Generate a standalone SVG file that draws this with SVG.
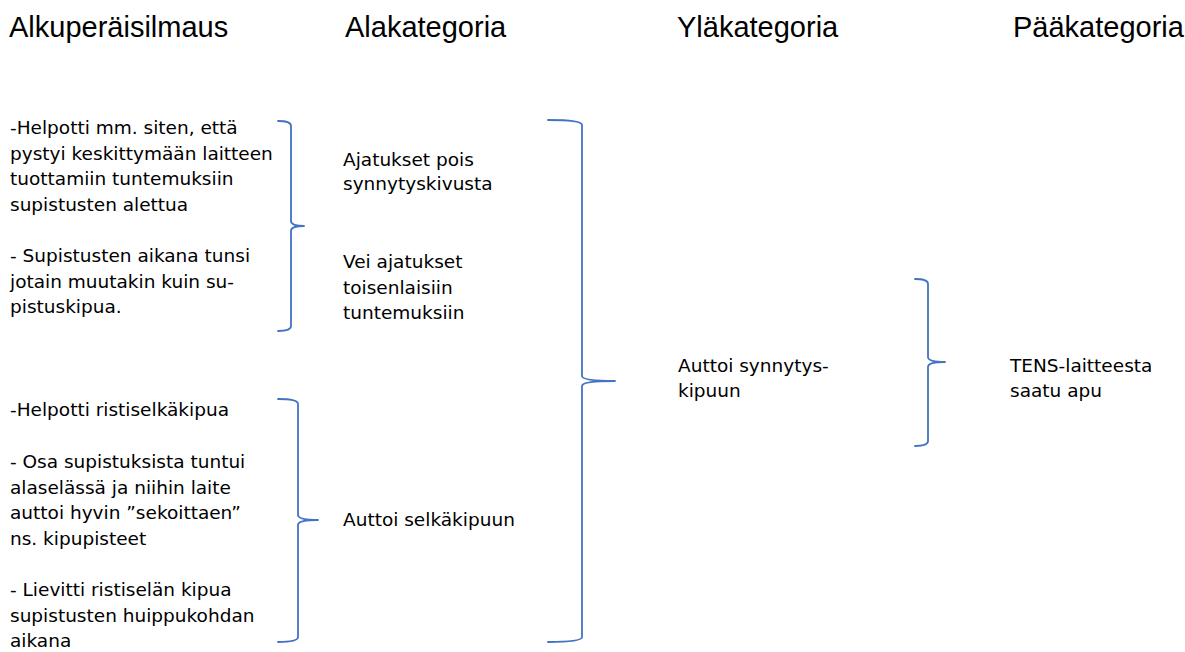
<svg xmlns="http://www.w3.org/2000/svg" width="1185" height="652" viewBox="0 0 1185 652">
  <style>
    .hdr { font-family: "Liberation Sans", Arial, sans-serif; font-size: 29px; fill: #000; }
    .txt { font-family: "DejaVu Sans", "Liberation Sans", sans-serif; font-size: 18.5px; fill: #000; }
    .brace { fill: none; stroke: #4472c4; stroke-width: 1.8; stroke-linecap: round; stroke-linejoin: round; }
  </style>
  <rect width="1185" height="652" fill="#fff"/>

  <!-- column headers -->
  <g id="headers">
    <text class="hdr" x="9" y="37">Alkuperäisilmaus</text>
    <text class="hdr" x="345" y="37">Alakategoria</text>
    <text class="hdr" x="677" y="37">Yläkategoria</text>
    <text class="hdr" x="1013" y="37">Pääkategoria</text>
  </g>

  <!-- original expressions -->
  <g id="expr-1">
    <text class="txt" x="10" y="134">-Helpotti mm. siten, että</text>
    <text class="txt" x="10" y="159.5">pystyi keskittymään laitteen</text>
    <text class="txt" x="10" y="185">tuottamiin tuntemuksiin</text>
    <text class="txt" x="10" y="210.5">supistusten alettua</text>
    <text class="txt" x="10" y="262">- Supistusten aikana tunsi</text>
    <text class="txt" x="10" y="287.5">jotain muutakin kuin su-</text>
    <text class="txt" x="10" y="313">pistuskipua.</text>
  </g>
  <g id="expr-2">
    <text class="txt" x="10" y="416">-Helpotti ristiselkäkipua</text>
    <text class="txt" x="10" y="468">- Osa supistuksista tuntui</text>
    <text class="txt" x="10" y="493.5">alaselässä ja niihin laite</text>
    <text class="txt" x="10" y="519">auttoi hyvin ”sekoittaen”</text>
    <text class="txt" x="10" y="544.5">ns. kipupisteet</text>
    <text class="txt" x="10" y="596">- Lievitti ristiselän kipua</text>
    <text class="txt" x="10" y="621.5">supistusten huippukohdan</text>
    <text class="txt" x="10" y="647">aikana</text>
  </g>

  <!-- subcategories -->
  <g id="sub-1">
    <text class="txt" x="343" y="166">Ajatukset pois</text>
    <text class="txt" x="343" y="190">synnytyskivusta</text>
  </g>
  <g id="sub-2">
    <text class="txt" x="343" y="268">Vei ajatukset</text>
    <text class="txt" x="343" y="293.5">toisenlaisiin</text>
    <text class="txt" x="343" y="319">tuntemuksiin</text>
  </g>
  <g id="sub-3">
    <text class="txt" x="343" y="526">Auttoi selkäkipuun</text>
  </g>

  <!-- upper category -->
  <g id="upper">
    <text class="txt" x="678" y="372">Auttoi synnytys-</text>
    <text class="txt" x="678" y="397">kipuun</text>
  </g>

  <!-- main category -->
  <g id="main">
    <text class="txt" x="1010" y="372">TENS-laitteesta</text>
    <text class="txt" x="1010" y="397">saatu apu</text>
  </g>

  <!-- grouping braces -->
  <g id="connectors">
    <path class="brace" d="M278,121 Q291,121 291,126 L291,221 Q291,226 304,226 Q291,226 291,231 L291,326 Q291,331 278,331"/>
    <path class="brace" d="M278,399 Q298,399 298,404 L298,515 Q298,520 318,520 Q298,520 298,525 L298,637 Q298,642 278,642"/>
    <path class="brace" d="M548,120 Q582,120 582,125 L582,376 Q582,381 615,381 Q582,381 582,386 L582,637 Q582,642 548,642"/>
    <path class="brace" d="M915,279 Q928,279 928,284 L928,357 Q928,362 945,362 Q928,362 928,367 L928,441 Q928,446 915,446"/>
  </g>
</svg>
